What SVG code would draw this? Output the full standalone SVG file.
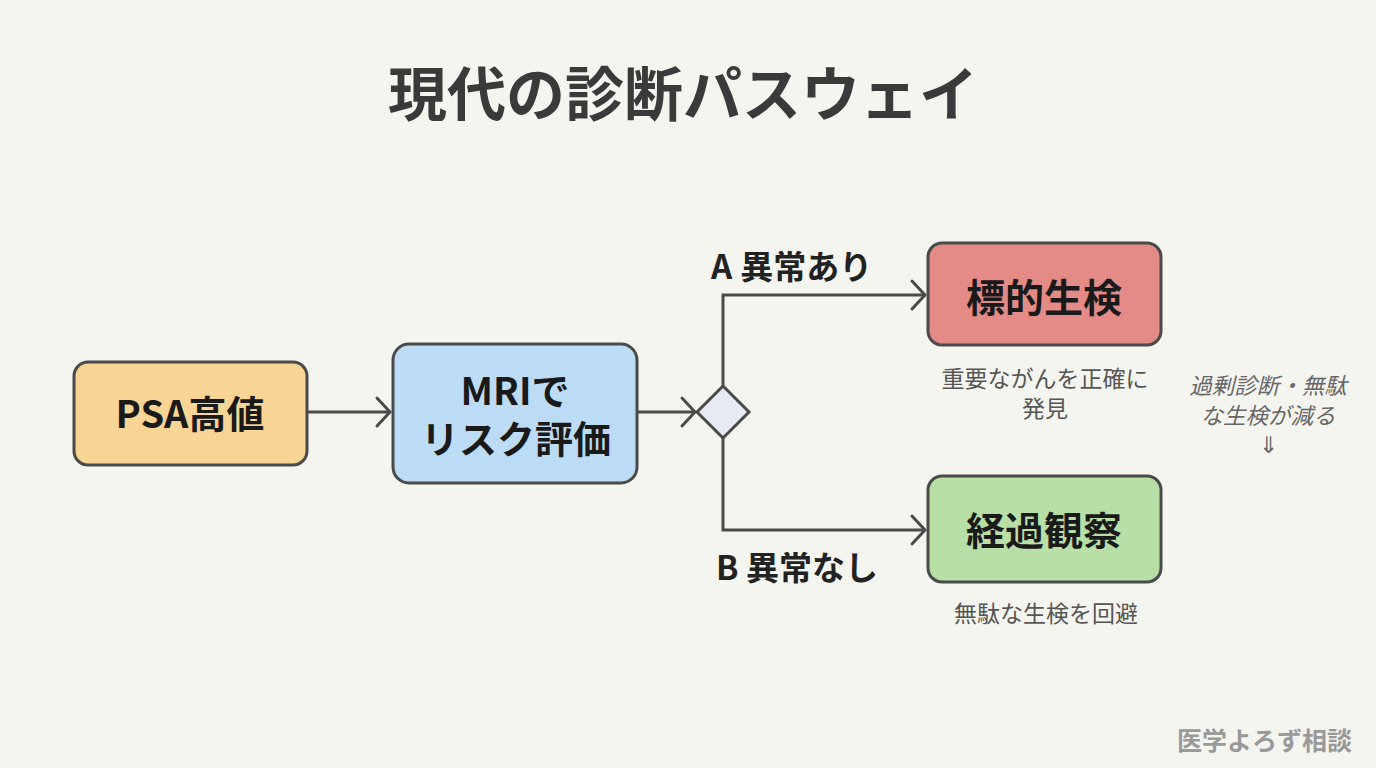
<svg xmlns="http://www.w3.org/2000/svg" width="1376" height="768" viewBox="0 0 1376 768">
<defs>
<marker id="chev" markerUnits="userSpaceOnUse" markerWidth="20" markerHeight="34" refX="16" refY="17" orient="auto" viewBox="0 0 20 34">
<path d="M3,3 L16,17 L3,31" fill="none" stroke="#4a4a4a" stroke-width="3" stroke-linecap="round" stroke-linejoin="round"/>
</marker>
</defs>
<style>
.box{stroke:#4a4a4a;stroke-width:3}
.t{font-family:"Noto Sans CJK JP","Noto Sans",sans-serif;font-weight:700;fill:#1a1a1a;text-anchor:middle;font-size:38px}
.lbl{font-family:"Noto Sans CJK JP","Noto Sans",sans-serif;font-weight:700;fill:#222;font-size:33px}
.note{font-family:"Noto Sans CJK JP","Noto Sans",sans-serif;fill:#555;font-size:23px;text-anchor:middle}
.it{font-family:"Noto Sans CJK JP","Noto Sans",sans-serif;fill:#666;font-size:22.5px;text-anchor:middle;font-style:italic}
.con{fill:none;stroke:#4a4a4a;stroke-width:3;marker-end:url(#chev)}
</style>
<rect width="1376" height="768" fill="#f5f5ef"/>
<text x="683" y="116" font-family="'Noto Sans CJK JP',sans-serif" font-weight="700" font-size="59" fill="#3a3a3a" text-anchor="middle">現代の診断パスウェイ</text>
<g id="connectors">
<path class="con" d="M307,412 H390"/>
<path class="con" d="M637,412 H695"/>
<path class="con" d="M723,386 V295 H925"/>
<path class="con" d="M723,438 V530 H925"/>
</g>
<g id="psa">
<rect class="box" x="74" y="362" width="233" height="103" rx="14" fill="#f8d594"/>
<text x="190" y="428" class="t">PSA高値</text>
</g>
<g id="mri">
<rect class="box" x="393" y="344" width="244" height="139" rx="16" fill="#bcdcf5"/>
<text class="t"><tspan x="515" y="405">MRIで</tspan><tspan x="516" y="453">リスク評価</tspan></text>
</g>
<g id="decision">
<path class="box" d="M723,386 L749,412 L723,438 L697,412 Z" fill="#e6eaf3"/>
</g>
<g id="biopsy">
<rect class="box" x="928" y="243" width="233" height="102" rx="14" fill="#e48a87"/>
<text x="1044" y="312" class="t" style="font-size:39px">標的生検</text>
</g>
<g id="observe">
<rect class="box" x="928" y="476" width="233" height="106" rx="14" fill="#b8e0a6"/>
<text x="1044" y="545" class="t" style="font-size:39px">経過観察</text>
</g>
<g id="labels">
<text x="711" y="279" class="lbl"><tspan>A</tspan><tspan dx="8">異常あり</tspan></text>
<text x="716" y="580" class="lbl">B 異常なし</text>
<text class="note"><tspan x="1045" y="387">重要ながんを正確に</tspan><tspan x="1045" y="417">発見</tspan></text>
<text x="1046" y="622" class="note">無駄な生検を回避</text>
<text class="it"><tspan x="1268" y="394">過剰診断・無駄</tspan><tspan x="1268" y="424">な生検が減る</tspan><tspan x="1268" y="453" style="font-style:normal">⇓</tspan></text>
</g>
<text x="1352" y="750" font-family="'Noto Sans CJK JP',sans-serif" font-weight="700" font-size="25" fill="#999" text-anchor="end">医学よろず相談</text>
</svg>
